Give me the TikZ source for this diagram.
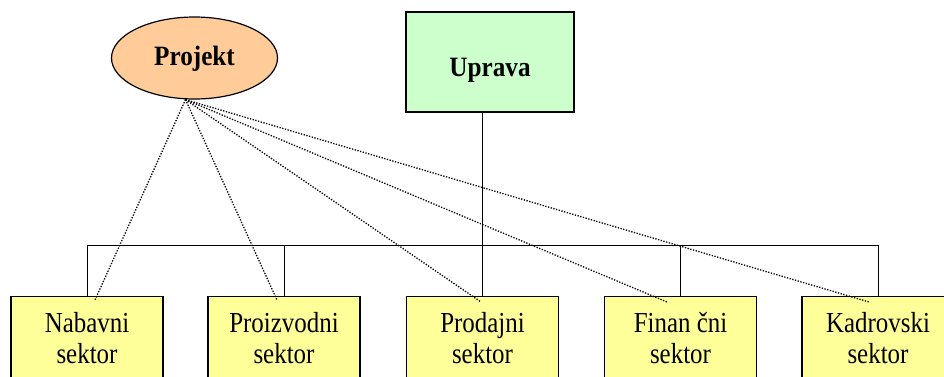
\documentclass[tikz,border=0pt]{standalone}
\usepackage{fontspec}
\setmainfont{Liberation Serif}
\newfontfamily\secfont[FakeStretch=0.86]{Liberation Serif}
\newfontfamily\headfont[FakeStretch=0.9]{Liberation Serif}
\usetikzlibrary{shapes.geometric,calc}
\definecolor{projfill}{HTML}{FFCC99}
\definecolor{upfill}{HTML}{CCFFCC}
\definecolor{secfill}{HTML}{FFFF99}
\tikzset{
  projnode/.style={ellipse,draw=black,line width=1.2pt,fill=projfill,minimum width=166pt,minimum height=82pt,inner sep=0pt,
    font=\headfont\fontsize{28}{31}\selectfont\bfseries,text height=14pt,text depth=0pt},
  upnode/.style={rectangle,draw=black,line width=1.2pt,fill=upfill,minimum width=168pt,minimum height=100pt,inner sep=0pt,
    font=\headfont\fontsize{28}{31}\selectfont\bfseries,text height=28pt,text depth=0pt},
  secbox/.style={rectangle,draw=black,line width=1.2pt,fill=secfill,minimum width=152pt,minimum height=120pt,inner sep=0pt,anchor=north},
  sectext/.style={align=center,inner sep=0pt,font=\secfont\fontsize{29}{31}\selectfont},
  orgline/.style={line width=1pt,black},
  projline/.style={line width=1.3pt,black,dash pattern=on 1.3pt off 1.5pt},
}
\begin{document}
\begin{tikzpicture}[x=1pt,y=-1pt]
\useasboundingbox (0,0) rectangle (944,376);
\clip (0,0) rectangle (944,376);
\fill[white] (0,0) rectangle (944,376);
% top nodes
\node[projnode] (proj) at (194.5,58) {Projekt};
\node[upnode] (up) at (490,62) {Uprava};
% sector boxes
\node[secbox] (n1) at (87,296) {};
\node[secbox] (n2) at (284,296) {};
\node[secbox] (n3) at (482.5,296) {};
\node[secbox] (n4) at (680.5,296) {};
\node[secbox] (n5) at (878,296) {};
\node[sectext] (t1) at (87,337.6) {Nabavni\\sektor};
\node[sectext] (t2) at (284,337.6) {Proizvodni\\sektor};
\node[sectext] (t3) at (482.5,337.6) {Prodajni\\sektor};
\node[sectext] (t4) at (680.5,337.6) {Finan čni\\sektor};
\node[sectext] (t5) at (878,337.6) {Kadrovski\\sektor};
% org tree
\coordinate (bus) at (482.5,245);
\draw[orgline] (n3.north |- up.south) -- (n3.north);
\draw[orgline] (n1.north) -- (n1.north |- bus) -- (n5.north |- bus) -- (n5.north);
\draw[orgline] (n2.north) -- (n2.north |- bus);
\draw[orgline] (n4.north) -- (n4.north |- bus);
% project links
\coordinate (ps) at ($(proj.south)+(-9,0)$);
\coordinate (d1) at ($(n1.north)+(8,4)$);
\coordinate (d2) at ($(n2.north)+(-7,4)$);
\coordinate (d3) at ($(n3.north)+(-1.5,6)$);
\coordinate (d4) at ($(n4.north)+(-13.5,6)$);
\coordinate (d5) at ($(n5.north)+(-9,6)$);
\foreach \d in {d1,d2,d3,d4,d5} \draw[projline] (ps) -- (\d);
\end{tikzpicture}
\end{document}
